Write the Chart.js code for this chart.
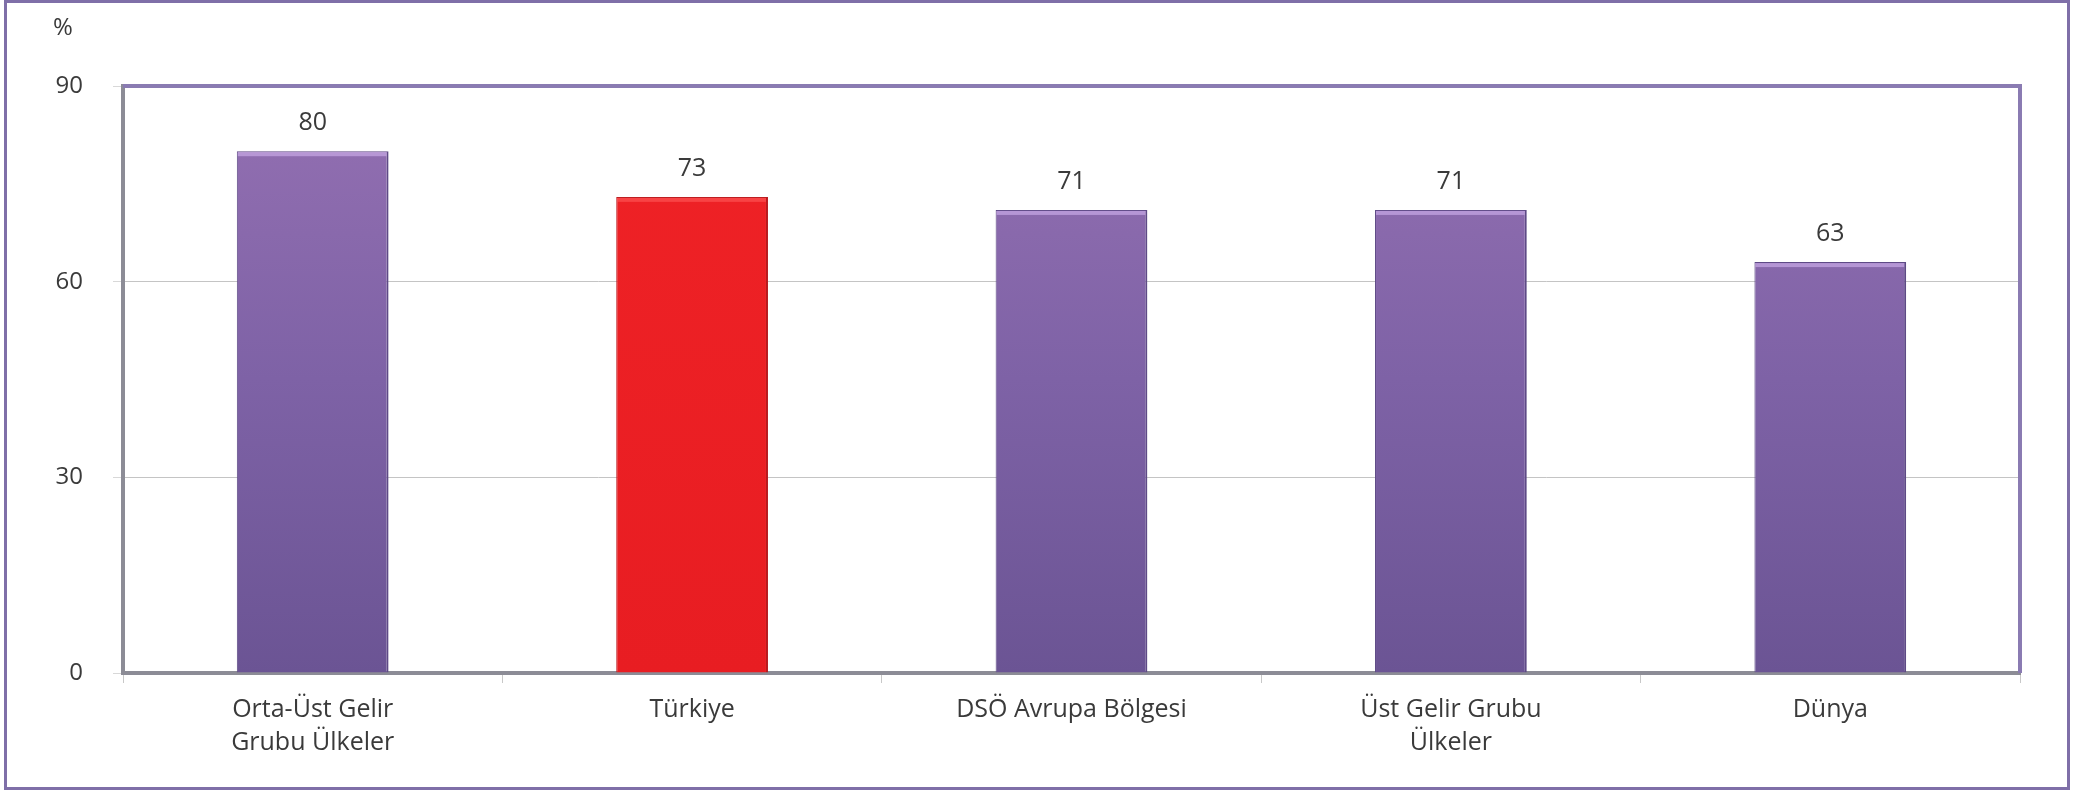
<!DOCTYPE html>
<html lang="tr">
<head>
    <meta charset="UTF-8">
    <title>Gelir grubu karşılaştırması</title>
    <script src="https://cdn.jsdelivr.net/npm/chart.js"></script>
    <style>
        body {
            margin: 0;
            background: #fff;
            font-family: "Open Sans", sans-serif;
        }
        #wrap {
            position: relative;
            width: 2082px;
            height: 796px;
        }
        #frame {
            position: absolute;
            left: 4px;
            top: 0;
            width: 2066px;
            height: 790px;
            border: 3px solid #7f6fa8;
            box-sizing: border-box;
            pointer-events: none;
        }
        canvas {
            position: absolute;
            left: 0;
            top: 0;
        }
    </style>
</head>
<body>
    <div id="wrap">
        <canvas id="chart" width="2082" height="796"></canvas>
        <div id="frame"></div>
    </div>

    <script>
        // data
        const categories = [
            ["Orta-Üst Gelir", "Grubu Ülkeler"],
            "Türkiye",
            "DSÖ Avrupa Bölgesi",
            ["Üst Gelir Grubu", "Ülkeler"],
            "Dünya"
        ];
        const values = [80, 73, 71, 71, 63];
        const highlight = "Türkiye";
        const yTicks = [0, 30, 60, 90];
        const unitLabel = "%";

        const textColor = "#3a3a3a";

        // vertical gradient for each bar, purple or red for Türkiye
        function barFill(ctx) {
            const chart = ctx.chart;
            const area = chart.chartArea;
            if (!area) return "#8363a6";
            const g = chart.ctx.createLinearGradient(0, area.top, 0, area.bottom);
            if (categories[ctx.dataIndex] === highlight) {
                g.addColorStop(0, "#ef2226");
                g.addColorStop(1, "#e81d22");
            } else {
                g.addColorStop(0, "#9470b2");
                g.addColorStop(0.5, "#7e62a6");
                g.addColorStop(1, "#6b5494");
            }
            return g;
        }

        // value labels over bars, % unit label, top/right plot border
        const extras = {
            id: "extras",
            beforeDatasetsDraw(chart) {
                const { ctx, chartArea } = chart;
                ctx.save();
                ctx.strokeStyle = "#8a7bb2";
                ctx.lineWidth = 4;
                ctx.beginPath();
                ctx.moveTo(chartArea.left, chartArea.top);
                ctx.lineTo(chartArea.right, chartArea.top);
                ctx.lineTo(chartArea.right, chartArea.bottom);
                ctx.stroke();
                ctx.restore();
            },
            afterDatasetsDraw(chart) {
                const { ctx, chartArea } = chart;
                const meta = chart.getDatasetMeta(0);
                ctx.save();
                ctx.fillStyle = textColor;
                ctx.font = "25px 'Open Sans', sans-serif";
                ctx.textAlign = "center";
                ctx.textBaseline = "middle";
                meta.data.forEach((bar, i) => {
                    // thin light strip on top of each bar
                    ctx.fillStyle = categories[i] === highlight ? "rgba(255,90,90,0.6)" : "rgba(200,170,230,0.7)";
                    ctx.fillRect(bar.x - bar.width / 2 + 1, bar.y + 1, bar.width - 3, 4);
                    ctx.fillStyle = textColor;
                    ctx.fillText(String(values[i]), bar.x, bar.y - 28);
                });
                ctx.font = "24px 'Open Sans', sans-serif";
                ctx.fillText(unitLabel, chartArea.left - 60, chartArea.top - 58);
                ctx.restore();
            }
        };

        new Chart(document.getElementById("chart"), {
            type: "bar",
            data: {
                labels: categories,
                datasets: [{
                    data: values,
                    backgroundColor: barFill,
                    borderColor: values.map((_, i) => categories[i] === highlight ? "#b81a1e" : "#5e4a86"),
                    borderWidth: { left: 1, right: 2, top: 1, bottom: 0 },
                    categoryPercentage: 1.0,
                    barPercentage: 0.40
                }]
            },
            options: {
                responsive: false,
                animation: false,
                layout: { padding: { left: 10, top: 86, right: 62, bottom: 0 } },
                plugins: {
                    legend: { display: false },
                    tooltip: { enabled: false }
                },
                scales: {
                    x: {
                        grid: {
                            offset: true,
                            drawOnChartArea: false,
                            drawTicks: true,
                            tickLength: 10,
                            color: "#c8c8c8"
                        },
                        border: { color: "#8c8c96", width: 4 },
                        ticks: {
                            color: textColor,
                            font: { family: "'Open Sans', sans-serif", size: 25, lineHeight: 1.32 },
                            padding: 10,
                            maxRotation: 0,
                            autoSkip: false
                        },
                        afterFit(scale) { scale.height = 123; }
                    },
                    y: {
                        min: 0,
                        max: 90,
                        afterBuildTicks(scale) {
                            scale.ticks = yTicks.map(v => ({ value: v }));
                        },
                        grid: {
                            color: ctx => (ctx.tick && (ctx.tick.value === 0 || ctx.tick.value === 90)) ? "rgba(0,0,0,0)" : "#c4c4c4",
                            lineWidth: 1,
                            tickLength: 10,
                            tickColor: "#d8d8d8"
                        },
                        border: { color: "#8c8c96", width: 4 },
                        ticks: {
                            color: textColor,
                            font: { family: "'Open Sans', sans-serif", size: 24 },
                            padding: 30
                        },
                        afterFit(scale) { scale.width = 113; }
                    }
                }
            },
            plugins: [extras]
        });
    </script>
</body>
</html>
